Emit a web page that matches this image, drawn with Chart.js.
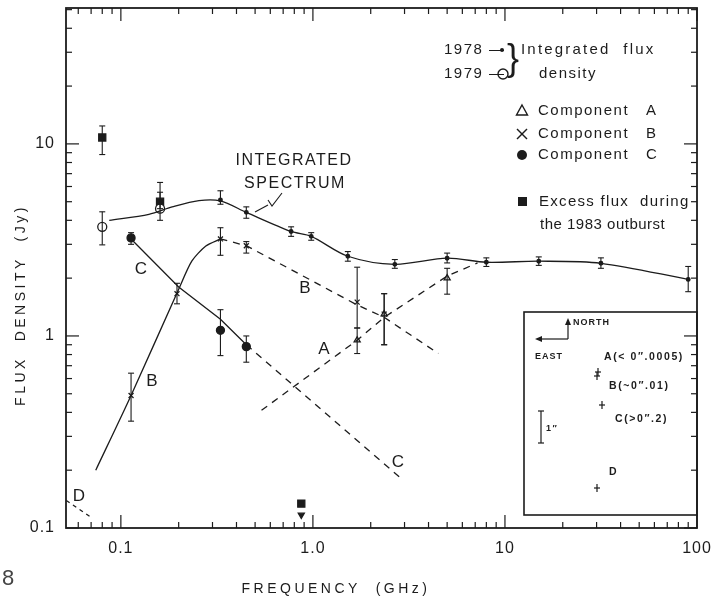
<!DOCTYPE html>
<html>
<head>
<meta charset="utf-8">
<script src="https://cdn.jsdelivr.net/npm/chart.js@4.4.1/dist/chart.umd.min.js"></script>
<style>
  html, body { margin: 0; padding: 0; background: #fff; }
  #wrap { width: 728px; height: 602px; position: relative; }
</style>
</head>
<body>
<div id="wrap"><canvas id="chart" width="728" height="602"></canvas></div>
<script>
// tick labels
const xTicks = [0.1, 1, 10, 100];
const xTickLabels = ['0.1', '1.0', '10', '100'];
const yTicks = [0.1, 1, 10];
const yTickLabels = ['0.1', '1', '10'];

// integrated flux 1978 (dots + error bars)
const intFreq = [0.33, 0.45, 0.77, 0.98, 1.52, 2.67, 5.0, 8.0, 15, 31.6, 90];
const intFlux = [5.1, 4.4, 3.5, 3.3, 2.6, 2.36, 2.54, 2.42, 2.45, 2.39, 1.97];
const intLo   = [4.85, 4.1, 3.3, 3.15, 2.45, 2.25, 2.4, 2.3, 2.33, 2.25, 1.7];
const intHi   = [5.7, 4.7, 3.7, 3.45, 2.75, 2.5, 2.7, 2.55, 2.58, 2.55, 2.3];

// integrated flux 1979 (open circles)
const f79Freq = [0.08, 0.16];
const f79Flux = [3.7, 4.6];
const f79Lo   = [2.98, 4.0];
const f79Hi   = [4.43, 6.3];

// excess flux during the 1983 outburst
const excFreq = [0.08, 0.16, 0.87];
const excFlux = [10.8, 5.0, 0.134];
const excLo   = [8.8, 4.6, null];
const excHi   = [12.4, 5.6, null];
const excLimitFlux = [0.117];

// components
const aFreq = [1.7, 2.35, 5.0];
const aFlux = [0.95, 1.3, 2.0];
const aLo   = [0.81, 0.9, 1.65];
const aHi   = [1.1, 1.66, 2.25];

const bFreq = [0.113, 0.196, 0.33, 0.45, 1.7, 2.35];
const bFlux = [0.49, 1.66, 3.2, 2.95, 1.5, 1.3];
const bLo   = [0.36, 1.47, 2.63, 2.7, 1.1, 0.9];
const bHi   = [0.64, 1.88, 3.66, 3.1, 2.28, 1.66];

const cFreq = [0.113, 0.33, 0.45];
const cFlux = [3.24, 1.07, 0.88];
const cLo   = [3.0, 0.79, 0.73];
const cHi   = [3.45, 1.37, 1.0];

// model curves
const intCurveF = [0.087, 0.14, 0.185, 0.255, 0.33, 0.45, 0.77, 0.98, 1.52, 2.67, 5.0, 8.0, 15, 31.6, 90];
const intCurveS = [4.0, 4.3, 4.7, 5.07, 5.05, 4.4, 3.5, 3.3, 2.6, 2.36, 2.54, 2.42, 2.45, 2.39, 1.97];
const bSolidF = [0.074, 0.113, 0.2, 0.234, 0.277, 0.33];
const bSolidS = [0.2, 0.49, 1.75, 2.45, 2.94, 3.2];
const bDashF  = [0.33, 0.45, 1.7, 2.35, 4.5];
const bDashS  = [3.2, 2.95, 1.45, 1.25, 0.81];
const cSolidF = [0.113, 0.2, 0.33, 0.45];
const cSolidS = [3.2, 1.8, 1.22, 0.9];
const cDashF  = [0.45, 2.9];
const cDashS  = [0.9, 0.18];
const aDashF  = [0.54, 1.7, 2.35, 5.0, 7.2];
const aDashS  = [0.41, 0.95, 1.25, 2.05, 2.4];
const dDashF  = [0.052, 0.0706];
const dDashS  = [0.139, 0.113];

const INK = '#1c1c1c';
const FONT = '"Liberation Sans", Arial, sans-serif';

const pts = (fs, ss) => fs.map((f, i) => ({ x: f, y: ss[i] }));
function bars(fs, lo, hi) {
    const out = [];
    fs.forEach((f, i) => {
        if (lo[i] == null) return;
        out.push({ x: f, y: lo[i] }, { x: f, y: hi[i] }, { x: f, y: null });
    });
    return out;
}
function curve(fs, ss, dash, tension) {
    return {
        data: pts(fs, ss), showLine: true, borderColor: INK, borderWidth: 1.3,
        borderDash: dash || [], tension: tension || 0, pointRadius: 0, spanGaps: false
    };
}
function errs(fs, lo, hi) {
    return {
        data: bars(fs, lo, hi), showLine: true, spanGaps: false, borderColor: INK, borderWidth: 1.1,
        pointStyle: 'line', pointRadius: 3, pointBorderWidth: 1.1, pointBorderColor: INK
    };
}
function marks(fs, ss, style, r, fill, extra) {
    return Object.assign({
        data: pts(fs, ss), showLine: false, pointStyle: style, pointRadius: r,
        pointBackgroundColor: fill ? INK : '#fff', pointBorderColor: INK, pointBorderWidth: 1.3
    }, extra || {});
}

const axesPlugin = {
    id: 'axesFrame',
    afterDraw(chart) {
        const { ctx, chartArea: a, scales: { x, y } } = chart;
        const line = (x1, y1, x2, y2) => { ctx.beginPath(); ctx.moveTo(x1, y1); ctx.lineTo(x2, y2); ctx.stroke(); };
        ctx.save();
        ctx.strokeStyle = INK; ctx.fillStyle = INK;
        ctx.lineWidth = 1.8;
        ctx.strokeRect(a.left, a.top, a.right - a.left, a.bottom - a.top);
        ctx.lineWidth = 1.2;
        for (let k = -2; k <= 2; k++) for (let m = 1; m <= 9; m++) {
            const v = m * Math.pow(10, k);
            if (v >= x.min && v <= x.max) {
                const px = x.getPixelForValue(v), len = m === 1 ? 13 : 6;
                line(px, a.bottom, px, a.bottom - len);
                line(px, a.top, px, a.top + len);
            }
            if (v >= y.min && v <= y.max) {
                const py = y.getPixelForValue(v), len = m === 1 ? 13 : 6;
                line(a.left, py, a.left + len, py);
                line(a.right, py, a.right - len, py);
            }
        }
        // tick labels
        ctx.font = '16px ' + FONT;
        ctx.letterSpacing = '1px';
        ctx.textAlign = 'center'; ctx.textBaseline = 'middle';
        xTicks.forEach((v, i) => ctx.fillText(xTickLabels[i], x.getPixelForValue(v), 549));
        ctx.textAlign = 'right';
        yTicks.forEach((v, i) => ctx.fillText(yTickLabels[i], 55, y.getPixelForValue(v)));

        // axis titles
        ctx.font = '14px ' + FONT;
        ctx.letterSpacing = '3.5px';
        ctx.textAlign = 'center';
        ctx.fillText('FREQUENCY  (GHz)', 336, 589);
        ctx.save();
        ctx.translate(21, 305); ctx.rotate(-Math.PI / 2);
        ctx.fillText('FLUX  DENSITY  (Jy)', 0, 0);
        ctx.restore();

        // page number fragment
        ctx.letterSpacing = '0px';
        ctx.font = '22px ' + FONT;
        ctx.fillStyle = '#444';
        ctx.textAlign = 'left';
        ctx.fillText('8', 2, 579);
        ctx.fillStyle = INK;

        // curve labels
        ctx.font = '16px ' + FONT;
        ctx.letterSpacing = '1.5px';
        ctx.textAlign = 'center';
        ctx.fillText('INTEGRATED', 294, 161);
        ctx.fillText('SPECTRUM', 295, 184);
        ctx.font = '17px ' + FONT;
        ctx.letterSpacing = '0px';
        [['C', 141, 269], ['B', 305, 288], ['A', 324, 349], ['B', 152, 381], ['C', 398, 462], ['D', 79, 496]]
            .forEach(t => ctx.fillText(t[0], t[1], t[2]));

        // pointer for the integrated spectrum
        ctx.lineWidth = 1.1;
        line(255, 212, 268, 205);
        ctx.beginPath(); ctx.moveTo(268, 200); ctx.lineTo(272, 206); ctx.lineTo(282, 193); ctx.stroke();

        // legend
        ctx.font = '15px ' + FONT;
        ctx.letterSpacing = '1.5px';
        ctx.textAlign = 'left';
        ctx.fillText('1978 —', 444, 50);
        ctx.beginPath(); ctx.arc(502, 50, 2, 0, Math.PI * 2); ctx.fill();
        ctx.fillText('1979 —', 444, 74);
        ctx.lineWidth = 1.4;
        ctx.beginPath(); ctx.arc(503, 74, 5, 0, Math.PI * 2); ctx.stroke();
        ctx.letterSpacing = '0px';
        ctx.font = '300 36px ' + FONT;
        ctx.fillText('}', 507, 60);
        ctx.font = '15px ' + FONT;
        ctx.letterSpacing = '2.2px';
        ctx.fillText('Integrated  flux', 521, 50);
        ctx.letterSpacing = '1.5px';
        ctx.fillText('density', 539, 74);
        ctx.fillText('Component   A', 538, 111);
        ctx.fillText('Component   B', 538, 134);
        ctx.fillText('Component   C', 538, 155);
        ctx.letterSpacing = '1.3px';
        ctx.fillText('Excess flux  during', 539, 202);
        ctx.letterSpacing = '0.5px';
        ctx.fillText('the 1983 outburst', 540, 225);
        ctx.lineWidth = 1.4;
        ctx.beginPath(); ctx.moveTo(522, 105); ctx.lineTo(527.5, 115); ctx.lineTo(516.5, 115); ctx.closePath(); ctx.stroke();
        line(517, 129, 527, 139); line(527, 129, 517, 139);
        ctx.beginPath(); ctx.arc(522, 155, 5, 0, Math.PI * 2); ctx.fill();
        ctx.fillRect(518, 197, 9, 9);

        // inset map
        ctx.lineWidth = 1.6;
        ctx.strokeRect(524, 312, a.right - 524, 203);
        ctx.lineWidth = 1.2;
        line(568, 339, 568, 321);
        ctx.beginPath(); ctx.moveTo(568, 318); ctx.lineTo(565, 325); ctx.lineTo(571, 325); ctx.closePath(); ctx.fill();
        line(568, 339, 538, 339);
        ctx.beginPath(); ctx.moveTo(535, 339); ctx.lineTo(542, 336); ctx.lineTo(542, 342); ctx.closePath(); ctx.fill();
        ctx.font = 'bold 9px ' + FONT;
        ctx.letterSpacing = '1px';
        ctx.fillText('NORTH', 573, 323);
        ctx.fillText('EAST', 535, 357);
        ctx.font = 'bold 10.5px ' + FONT;
        ctx.letterSpacing = '1.6px';
        ctx.fillText('A(< 0\u2033.0005)', 604, 357);
        ctx.fillText('B(~0\u2033.01)', 609, 386);
        ctx.fillText('C(>0\u2033.2)', 615, 419);
        ctx.fillText('D', 609, 472);
        ctx.font = 'bold 9px ' + FONT;
        ctx.fillText('1\u2033', 546, 429);
        const cross = (cx, cy) => { line(cx - 3, cy, cx + 3, cy); line(cx, cy - 4, cx, cy + 4); };
        cross(598, 372); cross(597, 376); cross(602, 405); cross(597, 488);
        line(541, 411, 541, 443); line(538, 411, 544, 411); line(538, 443, 544, 443);
        ctx.restore();
    }
};

new Chart(document.getElementById('chart'), {
    type: 'scatter',
    data: {
        datasets: [
            curve(intCurveF, intCurveS, null, 0.3),
            curve(bSolidF, bSolidS, null, 0.25),
            curve(bDashF, bDashS, [7, 6]),
            curve(cSolidF, cSolidS, null),
            curve(cDashF, cDashS, [7, 6]),
            curve(aDashF, aDashS, [7, 6]),
            curve(dDashF, dDashS, [4, 4]),
            errs(intFreq, intLo, intHi),
            errs(f79Freq, f79Lo, f79Hi),
            errs(excFreq, excLo, excHi),
            errs(aFreq, aLo, aHi),
            errs(bFreq, bLo, bHi),
            errs(cFreq, cLo, cHi),
            marks(intFreq, intFlux, 'circle', 1.8, true),
            marks(f79Freq, f79Flux, 'circle', 4.5, false),
            marks(aFreq, aFlux, 'triangle', 3.5, false),
            marks(bFreq, bFlux, 'crossRot', 3.5, false),
            marks(cFreq, cFlux, 'circle', 4, true),
            marks(excFreq, excFlux, 'rect', 5, true),
            marks(excFreq.slice(2), excLimitFlux, 'triangle', 3.5, true, { rotation: 180 })
        ]
    },
    options: {
        responsive: false,
        animation: false,
        layout: { padding: { left: 66, right: 31, top: 8, bottom: 74 } },
        plugins: { legend: { display: false }, tooltip: { enabled: false } },
        scales: {
            x: { type: 'logarithmic', min: 0.0518, max: 100, display: false },
            y: { type: 'logarithmic', min: 0.1, max: 51, display: false }
        }
    },
    plugins: [axesPlugin]
});
</script>
</body>
</html>
